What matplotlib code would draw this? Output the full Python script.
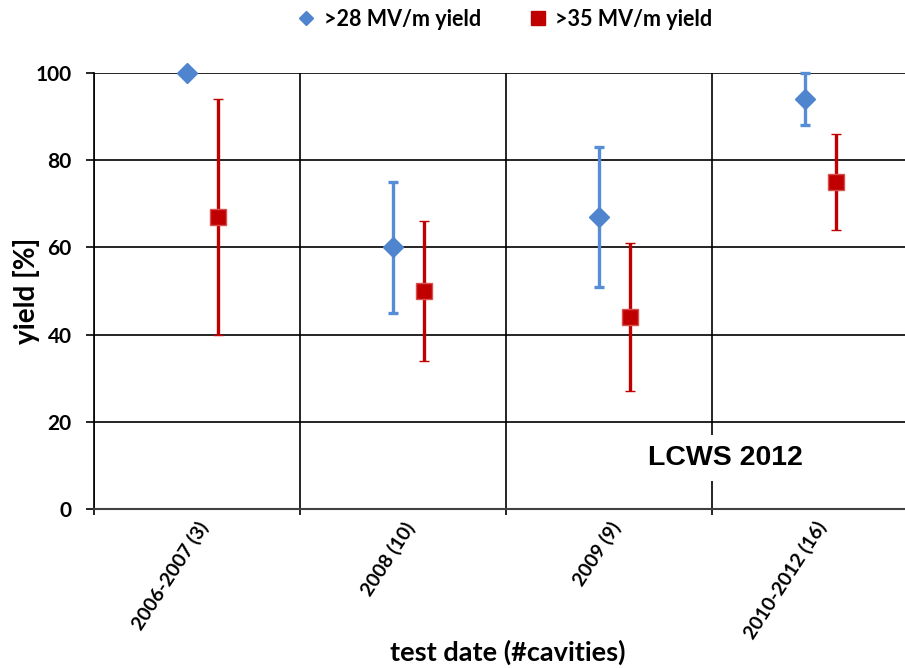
import matplotlib
matplotlib.use("Agg")
import matplotlib.pyplot as plt
from matplotlib.lines import Line2D
import numpy as np

categories = ["2006-2007 (3)", "2008 (10)", "2009 (9)", "2010-2012 (16)"]
yield28 = [100, 60, 67, 94]
yield28_low = [100, 45, 51, 88]
yield28_high = [100, 75, 83, 100]
yield35 = [67, 50, 44, 75]
yield35_low = [40, 34, 27, 64]
yield35_high = [94, 66, 61, 86]
y_ticks = [0, 20, 40, 60, 80, 100]

BLUE = "#558ED5"
BLUE_M = "#4F84CF"
RED = "#C00000"
FONT = "Lato"

fig = plt.figure(figsize=(9.05, 6.68), dpi=100)
ax = fig.add_axes([94/905, 1-509/668, 824/905, (509-73)/668])

x = np.arange(1, len(categories) + 1)
b = np.array(yield28); r = np.array(yield35)
berr = [b - np.array(yield28_low), np.array(yield28_high) - b]
rerr = [r - np.array(yield35_low), np.array(yield35_high) - r]

ax.errorbar(x - 0.05, b, yerr=berr, fmt="D", color=BLUE, mfc=BLUE_M, mec=BLUE_M,
            ms=10, elinewidth=2.4, capsize=3.5, capthick=2.4, clip_on=False, zorder=5)
ax.errorbar(x + 0.1, r, yerr=rerr, fmt="s", color=RED, mfc=RED, mec="#D85050",
            mew=1.0, ms=11.5, elinewidth=2.4, capsize=3.5, capthick=2.4, clip_on=False, zorder=5)

ax.set_xlim(0.5, len(categories) + 0.5)
ax.set_ylim(0, 100)
ax.set_yticks(y_ticks)
ax.set_xticks(np.arange(0.5, len(categories) + 1, 1.0))
ax.set_xticklabels([])
ax.set_xticks(x, minor=True)
ax.set_xticklabels(categories, minor=True, rotation=57, ha="right",
                   rotation_mode="anchor", fontsize=14, fontweight="bold", family=FONT)
ax.tick_params(axis="x", which="minor", length=0, pad=7)
ax.tick_params(axis="x", which="major", length=4, width=1.2, color="black")
ax.tick_params(axis="y", length=6, width=1.2, labelsize=15, pad=10)
for lab in ax.get_yticklabels():
    lab.set_fontweight("bold"); lab.set_family(FONT)

ax.grid(True, which="major", axis="both", color="black", linewidth=1.2, zorder=0)
ax.set_axisbelow(True)
for s in ["top", "right"]:
    ax.spines[s].set_visible(False)
ax.spines["left"].set_linewidth(1.2)
ax.spines["bottom"].set_linewidth(1.5)
ax.spines["bottom"].set_color("#404040")

ax.set_ylabel("yield [%]", fontsize=20, fontweight="bold", family=FONT)
ax.yaxis.set_label_coords(-0.066, 0.5)
ax.set_xlabel("test date (#cavities)", fontsize=19.5, fontweight="bold", family=FONT)
ax.xaxis.set_label_coords(0.502, -0.300)

ax.text(3.563, 11.7, "LCWS 2012", ha="center", va="center", fontsize=20.5,
        fontweight="bold", family="Liberation Sans",
        bbox=dict(facecolor="white", edgecolor="none", pad=7), zorder=4)

handles = [Line2D([], [], marker="D", color=BLUE_M, ls="none", ms=7),
           Line2D([], [], marker="s", color=RED, ls="none", ms=10)]
fig.legend(handles, [">28 MV/m yield", ">35 MV/m yield"], loc="center",
           bbox_to_anchor=(505/905, 1-19/668), ncol=2, frameon=False,
           handlelength=0.8, handletextpad=0.4, columnspacing=2.25,
           prop=dict(family=FONT, weight="bold", size=15.5))

fig.savefig("out.png", dpi=100)
